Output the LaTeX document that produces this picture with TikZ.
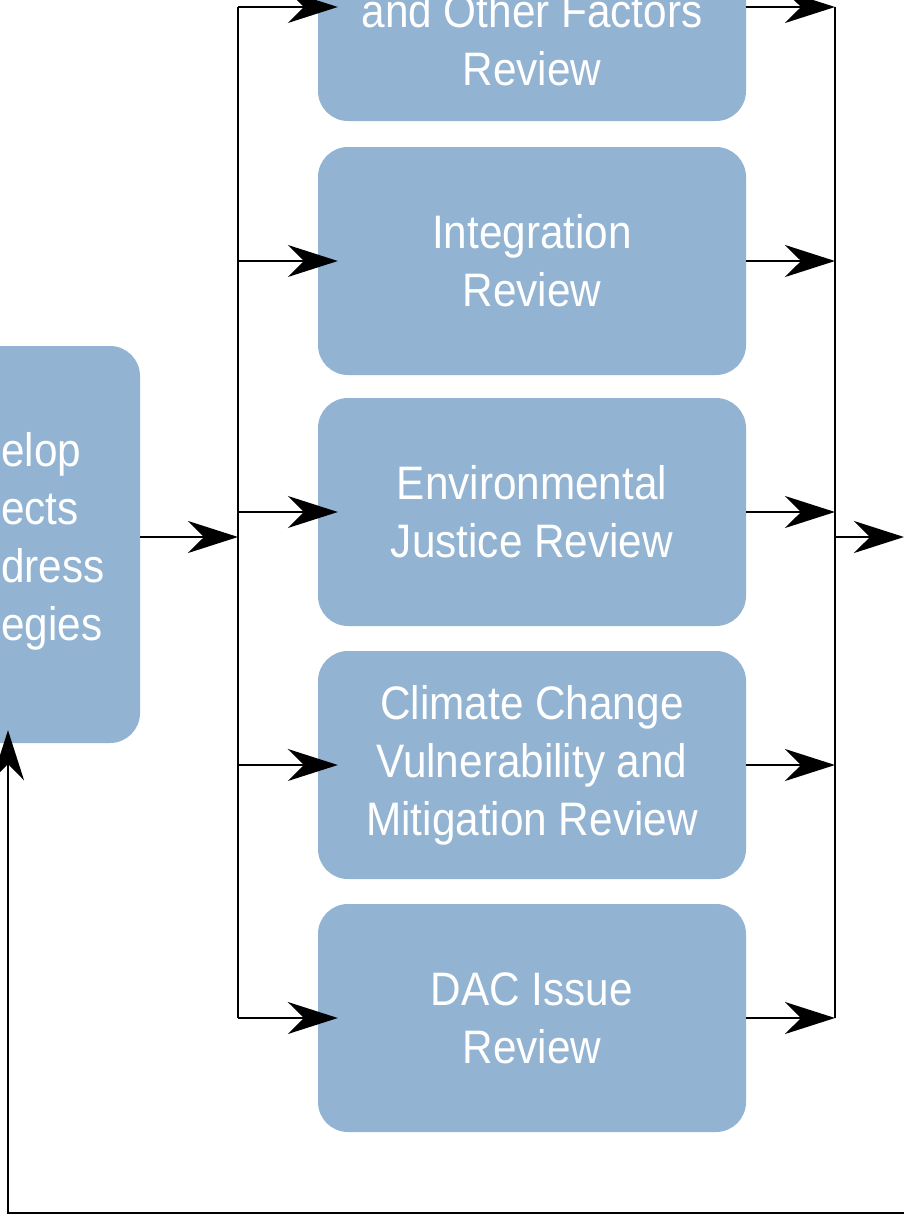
\documentclass[tikz,border=0pt]{standalone}
\usepackage{fontspec}
\setmainfont{Liberation Sans}[FakeStretch=0.9]
\usetikzlibrary{arrows.meta}
\definecolor{boxblue}{RGB}{146,179,210}
\begin{document}
\begin{tikzpicture}[x=1pt,y=-1pt,
  boxfont/.style={font=\fontsize{47}{58}\selectfont},
  review/.style={fill=boxblue, rounded corners=30pt, minimum width=428pt,
    minimum height=228pt, text=white, align=center, boxfont, inner sep=0pt},
  flow/.style={line width=2pt, -{Stealth[length=50pt,width=32pt,inset=16pt]}},
  wire/.style={line width=2pt}]
\useasboundingbox (0,0) rectangle (904,1215);

% project development box (left)
\node[fill=boxblue, rounded corners=30pt, minimum width=400pt,
      minimum height=397pt] (dev) at (-60,544.5) {};
\node[anchor=west, text=white, align=left, boxfont, inner sep=0pt]
      (devtext) at (1,541) {elop\\ects\\dress\\egies};

% review boxes
\node[review] (r1) at (532,7) {};
\node[text=white, align=center, boxfont, inner sep=0pt] (r1text) at (532,40)
      {and Other Factors\\Review};
\node[review] (r2) at (532,261) {Integration\\Review};
\node[review] (r3) at (532,512) {Environmental\\Justice Review};
\node[review] (r4) at (532,765) {Climate Change\\Vulnerability and\\Mitigation Review};
\node[review] (r5) at (532,1018) {DAC Issue\\Review};

% split bus
\coordinate (split) at (238,537);
\draw[flow] (dev.east |- split) -- (split);
\draw[wire] (split |- r1) -- (split |- r5);
\foreach \r in {r1,r2,r3,r4,r5}
  \draw[flow, shorten >=-20pt] (split |- \r) -- (\r.west);

% merge bus
\coordinate (merge) at (835,537);
\draw[wire] (merge |- r1) -- (merge |- r5);
\foreach \r in {r1,r2,r3,r4,r5}
  \draw[flow] (\r.east) -- (merge |- \r);
\coordinate (out) at (904,537);
\draw[flow] (merge) -- (out);

% feedback loop
\coordinate (retR) at (920,1213);
\coordinate (retL) at (8,1213);
\draw[flow, shorten >=-13pt] (retR) -- (retL) -- (retL |- dev.south);
\end{tikzpicture}
\end{document}
